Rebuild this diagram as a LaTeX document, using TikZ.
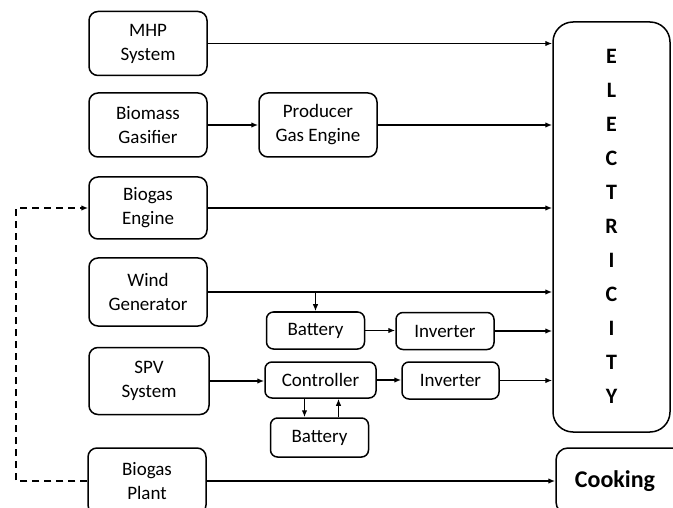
\documentclass[tikz,border=0pt]{standalone}
\usepackage{fontspec}
\setmainfont{Carlito}
\usetikzlibrary{arrows.meta}
\tikzset{
    block/.style={draw, rounded corners=9pt, line width=1.5pt, align=center,
        minimum width=118pt, minimum height=64pt, inner sep=0pt,
        font=\fontsize{19}{24}\selectfont},
    smallblock/.style={block, rounded corners=7pt, minimum width=98pt, minimum height=37pt},
    feed/.style={-{Latex[length=7pt,width=5.5pt]}, line width=1.6pt},
    gasline/.style={feed, dash pattern=on 7pt off 5pt}
}

\begin{document}
\begin{tikzpicture}[x=1pt, y=-1pt]
    \useasboundingbox (0,0) rectangle (673,508);
    \clip (0,0) rectangle (673,508);
% Sources
    \node[block] (mhp) at (148,43.5) {MHP\\System};
    \node[block] (gasifier) at (148,125) {Biomass\\Gasifier};
    \node[block] (producer) at (318,125) {Producer\\Gas Engine};
    \node[block, minimum height=62pt] (engine) at (148,208) {Biogas\\Engine};
    \node[block, minimum height=68pt] (wind) at (148,292) {Wind\\Generator};
    \node[block, minimum width=120pt, minimum height=67pt] (spv) at (149,381) {SPV\\System};
    \node[block, minimum height=66pt] (plant) at (147,481) {Biogas\\Plant};
% Storage and conversion
    \node[smallblock] (batA) at (315.5,330.5) {Battery};
    \node[smallblock] (invA) at (445,331) {Inverter};
    \node[smallblock, minimum width=111pt, minimum height=36pt] (ctrl) at (320.5,380) {Controller};
    \node[smallblock, minimum width=97pt] (invB) at (450.5,380.5) {Inverter};
    \node[smallblock, minimum height=39pt] (batB) at (319.5,437.5) {Battery};
% Loads
    \node[block, rounded corners=20pt, minimum width=117pt, minimum height=410pt,
        font=\fontsize{22}{34}\selectfont\bfseries] (elec) at (611.5,227)
        {\raisebox{6pt}{\begin{tabular}{@{}c@{}}E\\L\\E\\C\\T\\R\\I\\C\\I\\T\\Y\end{tabular}}};
    \node[block, rounded corners=12pt, minimum width=128pt, minimum height=66pt,
        font=\fontsize{24}{28}\selectfont\bfseries] (cook) at (620,481) {\hspace*{-10pt}Cooking};
% Power lines
    \draw[feed] (mhp.east) -- (mhp.east -| elec.west);
    \draw[feed] (gasifier) -- (producer);
    \draw[feed] (producer.east) -- (producer.east -| elec.west);
    \draw[feed] (engine.east) -- (engine.east -| elec.west);
    \draw[feed] (wind.east) -- (wind.east -| elec.west);
    \draw[feed] (wind.east -| batA.north) -- (batA.north);
    \draw[feed] (batA.east) -- (batA.east -| invA.west);
    \draw[feed] (invA.east) -- (invA.east -| elec.west);
    \draw[feed] (spv.east) -- (spv.east -| ctrl.west);
    \draw[feed] (ctrl.east) -- (ctrl.east -| invB.west);
    \draw[feed] (invB.east) -- (invB.east -| elec.west);
    \draw[feed] ([xshift=-16pt]ctrl.south) -- ([xshift=-16pt]ctrl.south |- batB.north);
    \draw[feed] ([xshift=18pt]ctrl.south |- batB.north) -- ([xshift=18pt]ctrl.south);
    \draw[feed] (plant.east) -- (plant.east -| cook.west);
% Biogas supply
    \draw[gasline] (plant.west) -- ++(-71,0) |- (engine.west);
\end{tikzpicture}
\end{document}
